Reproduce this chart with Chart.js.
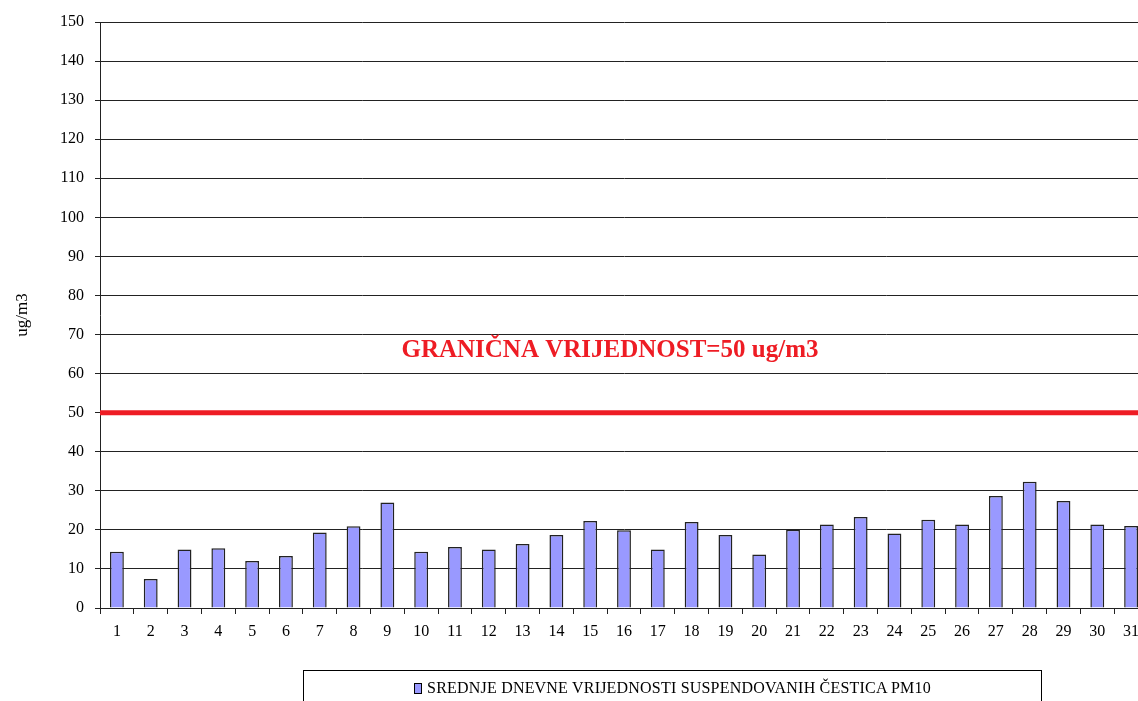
<!DOCTYPE html>
<html>
<head>
<meta charset="utf-8">
<script src="https://cdn.jsdelivr.net/npm/chart.js@4/dist/chart.umd.min.js"></script>
<style>
    html, body { margin: 0; padding: 0; background: #fff; overflow: hidden; }
    #wrap { position: relative; width: 1138px; height: 701px; overflow: hidden; }
    #legend {
        position: absolute; left: 303px; top: 670px; width: 739px; height: 40px;
        border: 1px solid #000; box-sizing: border-box;
        font-family: 'Liberation Serif', serif; font-size: 16px; color: #000;
        text-align: center; padding-top: 8px; letter-spacing: 0.2px; white-space: nowrap;
    }
    #legend .sw {
        display: inline-block; width: 6px; height: 9px; background: #9999ff;
        border: 1px solid #000; margin-right: 5px; vertical-align: -1px;
    }
</style>
</head>
<body>
<div id="wrap">
    <canvas id="pmChart" width="1148" height="701"></canvas>
    <div id="legend"></div>
</div>
<script>
// Days of the month
const days = ['1', '2', '3', '4', '5', '6', '7', '8', '9', '10', '11', '12', '13', '14', '15', '16',
    '17', '18', '19', '20', '21', '22', '23', '24', '25', '26', '27', '28', '29', '30', '31'];

// Daily mean PM10 (ug/m3)
const pm10 = [14.4, 7.4, 15.0, 15.3, 12.0, 13.3, 19.3, 20.9, 27.0, 14.4, 15.6, 15.0, 16.4, 18.7, 22.3, 19.9,
    15.0, 22.0, 18.7, 13.7, 20.0, 21.4, 23.3, 19.1, 22.6, 21.4, 28.7, 32.3, 27.4, 21.4, 21.0];

const seriesLabel = 'SREDNJE DNEVNE VRIJEDNOSTI SUSPENDOVANIH ČESTICA PM10';
const limitValue = 50;
const limitText = 'GRANIČNA VRIJEDNOST=50 ug/m3';
const limitTextValue = 66;

// Red limit line + caption, positioned through the y scale
const limitLine = {
    id: 'limitLine',
    afterDatasetsDraw(chart) {
        const { ctx, chartArea, scales } = chart;
        const y = scales.y.getPixelForValue(limitValue);
        ctx.save();
        ctx.strokeStyle = '#ee1c24';
        ctx.lineWidth = 5;
        ctx.beginPath();
        ctx.moveTo(chartArea.left, y);
        ctx.lineTo(chartArea.right, y);
        ctx.stroke();

        ctx.fillStyle = '#ee1c24';
        ctx.font = 'bold 25px "Liberation Serif", serif';
        ctx.textAlign = 'center';
        ctx.textBaseline = 'middle';
        ctx.fillText(limitText, 610, scales.y.getPixelForValue(limitTextValue));
        ctx.restore();
    }
};

const serif = { family: '"Liberation Serif", serif', size: 16 };

new Chart(document.getElementById('pmChart'), {
    type: 'bar',
    data: {
        labels: days,
        datasets: [{
            label: seriesLabel,
            data: pm10,
            backgroundColor: '#9999ff',
            borderColor: '#222',
            borderWidth: 1.5,
            barPercentage: 0.41,
            categoryPercentage: 1.0
        }]
    },
    options: {
        responsive: false,
        animation: false,
        layout: { padding: { top: 22, bottom: 53, right: 0, left: 0 } },
        plugins: {
            legend: { display: false },
            tooltip: { enabled: false }
        },
        scales: {
            x: {
                offset: true,
                grid: {
                    display: true,
                    offset: true,
                    drawOnChartArea: false,
                    drawTicks: true,
                    tickLength: 6,
                    color: '#222'
                },
                border: { display: true, color: '#222', width: 1 },
                ticks: { color: '#000', font: serif, padding: 8, maxRotation: 0, autoSkip: false },
                afterFit(scale) { scale.height = 40; }
            },
            y: {
                min: 0,
                max: 150,
                ticks: { stepSize: 10, color: '#000', font: serif, padding: 11 },
                grid: { color: '#222', lineWidth: 1, tickLength: 5 },
                border: { display: true, color: '#222', width: 1 },
                title: {
                    display: true,
                    text: 'ug/m3',
                    color: '#000',
                    font: { family: '"Liberation Serif", serif', size: 17 },
                    padding: { top: 12, bottom: 30 }
                },
                afterFit(scale) { scale.width = 100; }
            }
        }
    },
    plugins: [limitLine]
});

document.getElementById('legend').innerHTML = '<span class="sw"></span>' + seriesLabel;
</script>
</body>
</html>
